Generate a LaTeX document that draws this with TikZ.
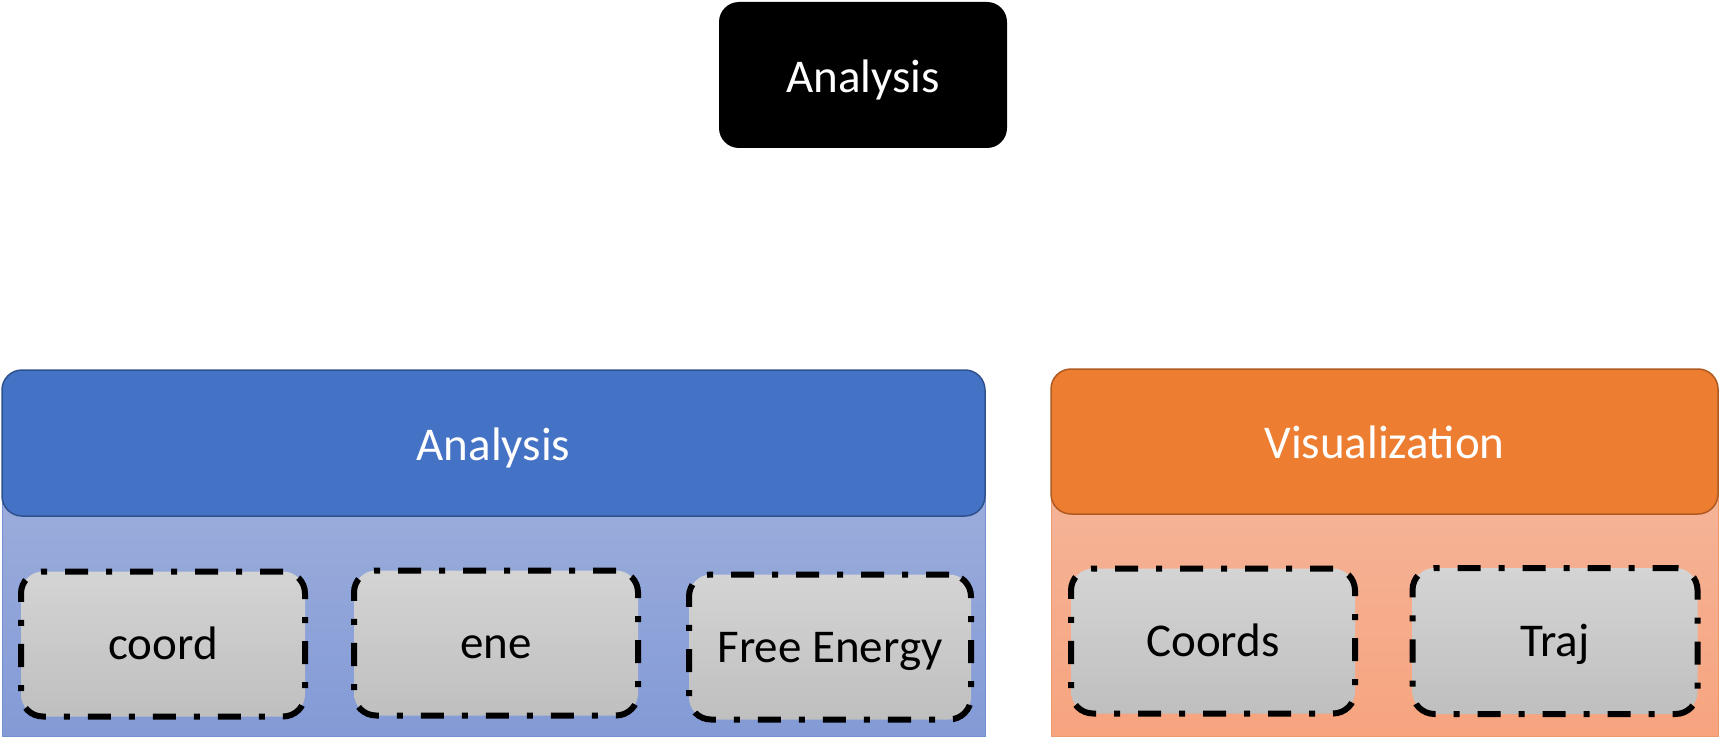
\documentclass[tikz,border=0pt]{standalone}
\usepackage{fontspec}
\setmainfont{Carlito}
\definecolor{hdrblue}{HTML}{4472C4}
\definecolor{hdrblueline}{HTML}{2F528F}
\definecolor{panblueT}{HTML}{A0B1DC}
\definecolor{panblueB}{HTML}{839AD6}
\definecolor{panblueline}{HTML}{7590D0}
\definecolor{hdrorange}{HTML}{ED7D31}
\definecolor{hdrorangeline}{HTML}{AE5A21}
\definecolor{panorangeT}{HTML}{F4B79C}
\definecolor{panorangeB}{HTML}{F7A47F}
\definecolor{panorangeline}{HTML}{EE9A70}
\definecolor{grayT}{HTML}{D4D4D4}
\definecolor{grayB}{HTML}{BFBFBF}
\tikzset{
  lbl/.style={font=\fontsize{47}{56}\selectfont, text height=30pt, text depth=0pt},
  topbox/.style={lbl, text height=36pt, fill=black, text=white, rounded corners=20pt, inner sep=0pt,
    minimum width=288pt, minimum height=146pt},
  header/.style={lbl, text height=34pt, text=white, rounded corners=20pt, inner sep=0pt, line width=1.5pt},
  panel/.style={inner sep=0pt, line width=1pt},
  itembox/.style={lbl, top color=grayT, bottom color=grayB, draw=black, line width=6pt,
    dash pattern=on 23pt off 18pt on 6pt off 18pt, rounded corners=22pt, inner sep=0pt,
    minimum width=284pt, minimum height=145pt}
}
\begin{document}
\begin{tikzpicture}[x=1pt,y=-1pt]
\useasboundingbox (0,0) rectangle (1720,738);
% top
\node[topbox] (top) at (863,75) {Analysis};
% panels
\node[panel, top color=panblueT, bottom color=panblueB, draw=panblueline,
  minimum width=983pt, minimum height=293pt] (apanel) at (493.5,589.5) {};
\node[panel, top color=panorangeT, bottom color=panorangeB, draw=panorangeline,
  minimum width=667pt, minimum height=295pt] (vpanel) at (1384.5,588.5) {};
% headers
\node[header, fill=hdrblue, draw=hdrblueline, minimum width=983pt, minimum height=146pt]
  (ahdr) at (493.5,443) {Analysis};
\node[header, fill=hdrorange, draw=hdrorangeline, minimum width=667pt, minimum height=145pt]
  (vhdr) at (1384.5,441.5) {Visualization};
% items
\node[itembox] (coord) at (163,644) {coord};
\node[itembox] (ene) at (496,643) {ene};
\node[itembox, minimum width=282pt] (fe) at (830,647) {Free Energy};
\node[itembox] (coords) at (1213,641) {Coords};
\node[itembox, minimum width=285pt, minimum height=146pt] (traj) at (1555,641) {Traj};
\end{tikzpicture}
\end{document}
